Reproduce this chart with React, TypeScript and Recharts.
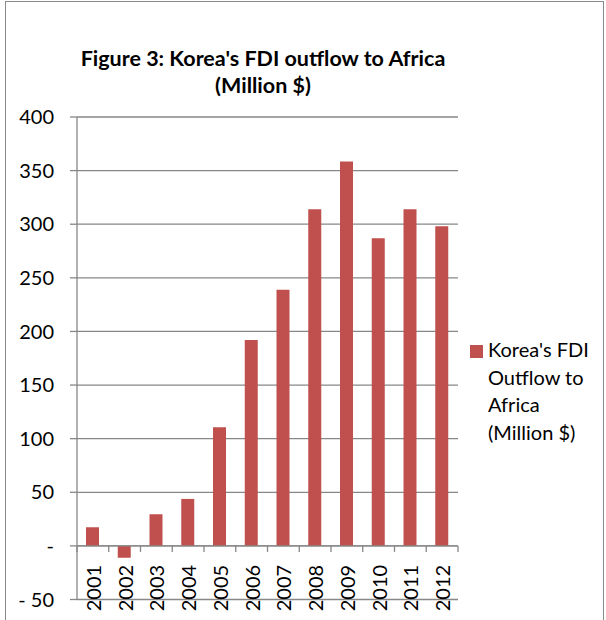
import { BarChart, Bar, XAxis, YAxis, CartesianGrid, ReferenceLine, Legend } from 'recharts';

const years = ['2001', '2002', '2003', '2004', '2005', '2006', '2007', '2008', '2009', '2010', '2011', '2012'];
const outflow = [17.4, -11, 29.5, 43.8, 110.6, 192, 239, 314, 358.5, 287, 314, 298];
const yTicks = [-50, 0, 50, 100, 150, 200, 250, 300, 350, 400];
const seriesName = "Korea's FDI Outflow to Africa (Million $)";
const legendLines = ["Korea's FDI", 'Outflow to', 'Africa', '(Million $)'];

const data = years.map((year, i) => ({ year, value: outflow[i] }));

const FONT = 'Lato, "Open Sans", sans-serif';
const GRAY = '#878787';
const BAR = '#C0504D';

// plot area
const TOP = 117;
const BOTTOM = 599.5;
const LEFT = 77;
const RIGHT = 458;
const X_AXIS_H = 20;
const PLOT_H = BOTTOM - TOP;
const BAND = (RIGHT - LEFT) / years.length;
const Y_MIN = -50;
const Y_MAX = 400;
const ZERO_Y = TOP + (PLOT_H * Y_MAX) / (Y_MAX - Y_MIN);

function YearTick(props: any) {
  const { x, index, payload } = props;
  return (
    <g>
      <line x1={x - BAND / 2} x2={x - BAND / 2} y1={ZERO_Y} y2={ZERO_Y + 6} stroke={GRAY} strokeWidth={1.3} />
      {index === years.length - 1 && (
        <line x1={x + BAND / 2} x2={x + BAND / 2} y1={ZERO_Y} y2={ZERO_Y + 6} stroke={GRAY} strokeWidth={1.3} />
      )}
      <text
        transform={`translate(${x},${ZERO_Y + 19}) rotate(-90)`}
        textAnchor="end"
        dominantBaseline="central"
        fontFamily={FONT}
        fontSize={20}
        fill="#000"
      >
        {payload.value}
      </text>
    </g>
  );
}

function LegendBox() {
  return (
    <div style={{ position: 'relative', fontFamily: FONT, fontSize: 20, lineHeight: '27.5px', color: '#000' }}>
      <div style={{ position: 'absolute', left: 0, top: 8.5, width: 13, height: 13, background: BAR }} />
      <div style={{ marginLeft: 18, whiteSpace: 'nowrap' }}>
        {legendLines.map((l) => (
          <div key={l}>{l}</div>
        ))}
      </div>
    </div>
  );
}

export default function App() {
  return (
    <div style={{ position: 'absolute', left: 0, top: 0, width: 606, height: 620, overflow: 'hidden', background: '#fff' }}>
      <div
        style={{
          position: 'absolute',
          left: 5,
          top: 1,
          width: 597,
          height: 660,
          border: '1.5px solid #8a8a8a',
        }}
      />
      <div
        style={{
          position: 'absolute',
          left: 0,
          top: 45,
          width: 526,
          textAlign: 'center',
          fontFamily: FONT,
          fontWeight: 'bold',
          fontSize: 21.5,
          lineHeight: '27px',
          color: '#000',
        }}
      >
        Figure 3: Korea's FDI outflow to Africa
        <br />
        (Million $)
      </div>
      <div style={{ position: 'absolute', left: 0, top: 0 }}>
        <BarChart
          width={606}
          height={620}
          data={data}
          margin={{ top: TOP, right: 606 - RIGHT, bottom: 620 - BOTTOM - X_AXIS_H, left: 0 }}
        >
          <CartesianGrid vertical={false} stroke={GRAY} strokeWidth={1.3} />
          <XAxis
            dataKey="year"
            height={X_AXIS_H}
            axisLine={false}
            tickLine={false}
            interval={0}
            tick={<YearTick />}
          />
          <YAxis
            width={LEFT}
            domain={[Y_MIN, Y_MAX]}
            ticks={yTicks}
            allowDataOverflow
            stroke={GRAY}
            strokeWidth={1.3}
            tickSize={7}
            tickMargin={16}
            tick={{ fill: '#000', fontSize: 20, fontFamily: FONT }}
            tickFormatter={(v: number) => (v === 0 ? '-' : v < 0 ? `- ${Math.abs(v)}` : String(v))}
          />
          <ReferenceLine y={0} stroke={GRAY} strokeWidth={1.3} />
          <Legend
            layout="vertical"
            align="center"
            verticalAlign="middle"
            wrapperStyle={{ left: 470, top: 336, width: 136 }}
            content={() => <LegendBox />}
          />
          <Bar dataKey="value" name={seriesName} fill={BAR} barSize={13} isAnimationActive={false} />
        </BarChart>
      </div>
    </div>
  );
}
